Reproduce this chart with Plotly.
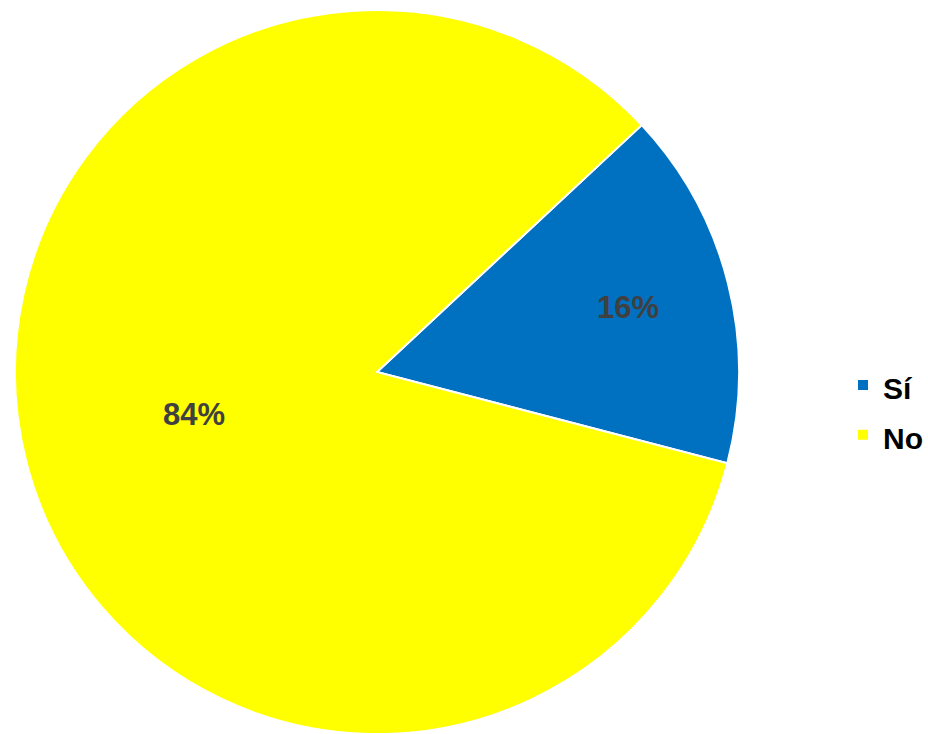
import plotly.graph_objects as go

labels = ["Sí", "No"]
values = [16, 84]
colors = ["#0070C0", "#FFFF00"]
pct_text = ["16%", "84%"]

W, H = 928, 734
cx, cy, R = 377, 372, 362

fig = go.Figure()
fig.add_trace(go.Pie(
    labels=[f'<span style="font-size:30px">{l}</span>' for l in labels],
    values=values,
    sort=False,
    direction="clockwise",
    rotation=47,
    marker=dict(colors=colors, line=dict(color="white", width=2)),
    textinfo="none",
    hovertemplate="%{percent}<extra></extra>",
    domain=dict(x=[(cx - R) / W, (cx + R) / W], y=[1 - (cy + R) / H, 1 - (cy - R) / H]),
))

label_pos = [(628, 307), (194, 414)]
for t, (x, y) in zip(pct_text, label_pos):
    fig.add_annotation(x=x / W, y=1 - y / H, xref="paper", yref="paper", text=t,
                       xanchor="center", yanchor="middle",
                       showarrow=False, font=dict(family="Liberation Sans, Arial", size=31, color="#404040", weight="bold"))

fig.update_layout(
    width=W, height=H,
    margin=dict(l=0, r=0, t=0, b=0, autoexpand=False),
    paper_bgcolor="white", plot_bgcolor="white",
    showlegend=True,
    legend=dict(x=843 / W, y=1 - 355 / H, xanchor="left", yanchor="top",
                font=dict(family="Liberation Sans, Arial", size=36, color="black", weight="bold"),
                itemwidth=30, tracegroupgap=0, bgcolor="rgba(0,0,0,0)"),
)

fig.write_html("out.html", config={"displayModeBar": False},
               post_script="document.body.style.margin='0';document.body.style.overflow='hidden';")
